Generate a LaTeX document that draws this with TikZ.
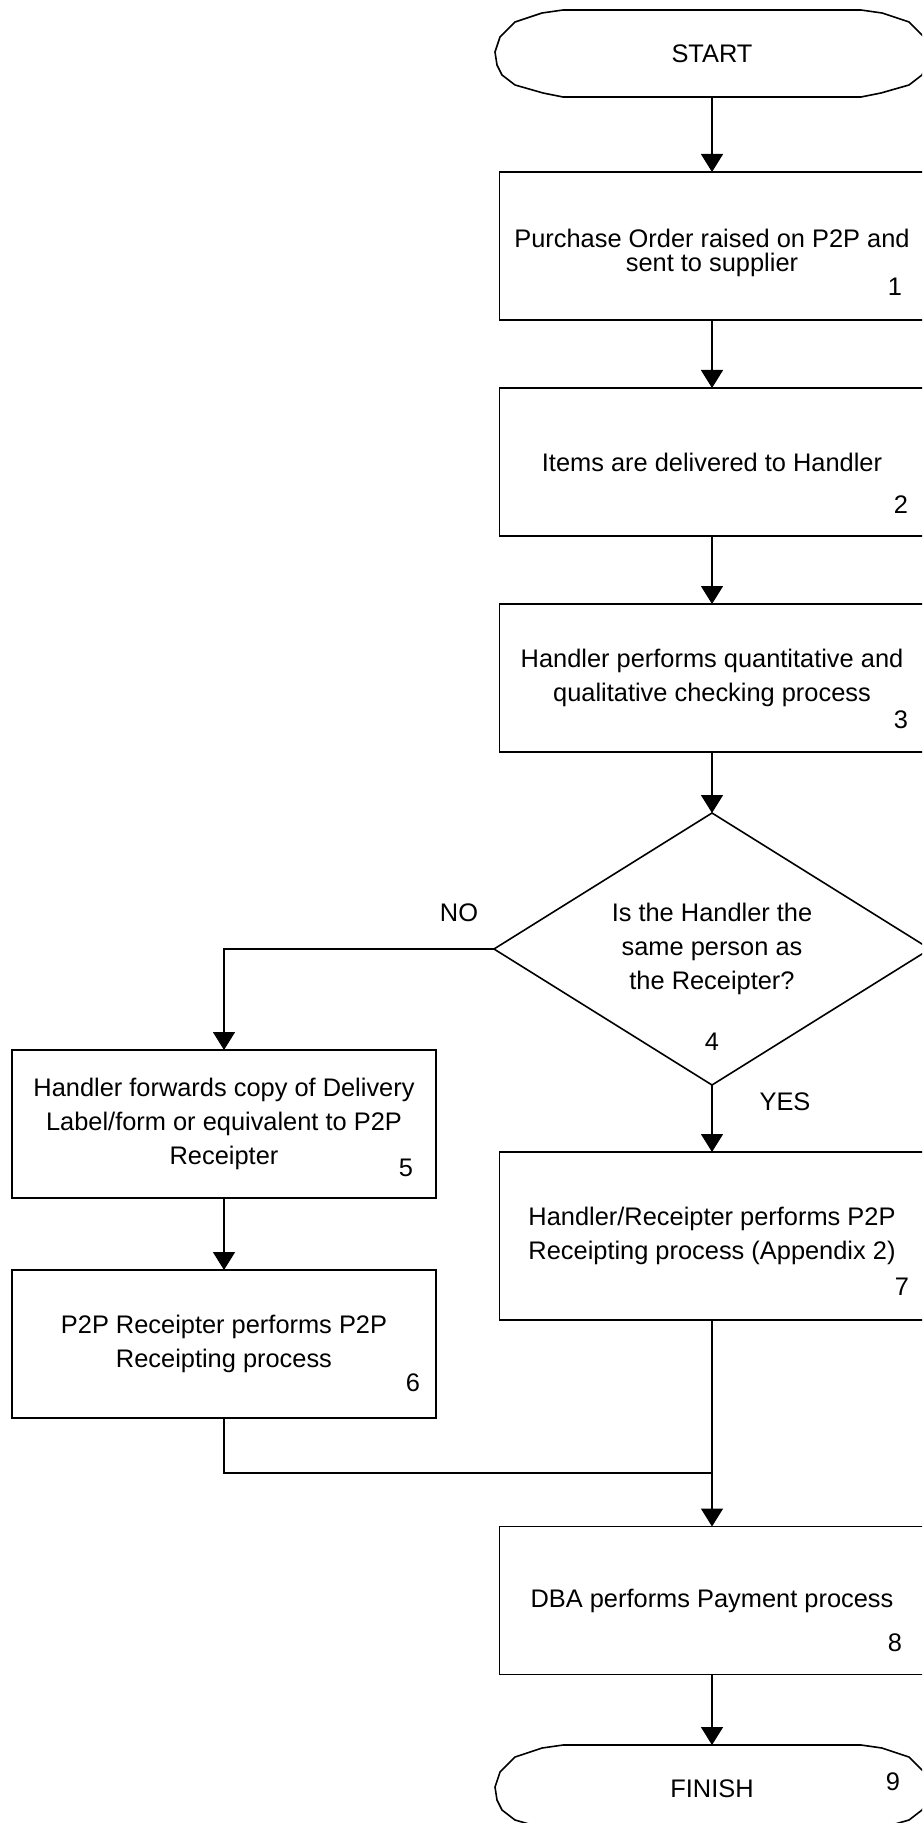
\documentclass[tikz,border=0pt]{standalone}
\usepackage{fontspec}
\setmainfont{Liberation Sans}
\usetikzlibrary{arrows.meta,shapes.geometric}
\begin{document}
\begin{tikzpicture}[x=0.5pt,y=-0.5pt,
  every node/.style={font=\fontsize{12.7pt}{17pt}\selectfont, inner sep=0pt, outer sep=0pt},
  line/.style={line width=0.8pt},
  arr/.style={line width=0.8pt, -{Triangle[width=11pt,length=9pt]}},
  box/.style={draw, line width=0.8pt, rectangle, minimum width=212.5pt, minimum height=74pt, align=center},
  lbox/.style={box, minimum width=212pt},
  ghost/.style={rectangle, align=center},
  term/.pic={\draw[line width=0.8pt] (563,0) -- (542,3) -- (515,12) -- (500,27) -- (495,42) -- (497,55) -- (502,65) -- (515,75) -- (543,83) -- (563,87)
     -- (861,87) -- (881,83) -- (909,75) -- (922,65) -- (927,55) -- (929,42) -- (924,27) -- (909,12) -- (882,3) -- (861,0) -- cycle;}
]
\useasboundingbox (0,0) rectangle (922,1823);
\fill[white] (0,0) rectangle (922,1823);
\clip (0,0) rectangle (922,1823);

% terminators
\pic at (0,10) {term};
\node[ghost, minimum width=218pt, minimum height=43.5pt] (start) at (712,53.5) {START};
\pic at (0,1745) {term};
\node[ghost, minimum width=218pt, minimum height=43.5pt] (finish) at (712,1788.5) {FINISH};
\node (n9) at (893,1782) {9};

% process boxes
\node[box] (b1) at (712,246) {};
\node[ghost, font=\fontsize{12.7pt}{12pt}\selectfont] (t1) at (712,252.5) {Purchase Order raised on P2P and\\sent to supplier};
\node (n1) at (895,287) {1};
\node[box] (b2) at (712,462) {Items are delivered to Handler};
\node (n2) at (901,505) {2};
\node[box] (b3) at (712,678) {Handler performs quantitative and\\qualitative checking process};
\node (n3) at (901,720) {3};

% decision
\node[ghost, minimum width=218pt, minimum height=136pt] (dec) at (712,949) {Is the Handler the\\same person as\\the Receipter?};
\draw[line] (dec.north) -- (dec.east) -- (dec.south) -- (dec.west) -- cycle;
\node (n4) at (712,1042) {4};

\node[lbox] (b5) at (224,1124) {Handler forwards copy of Delivery\\Label/form or equivalent to P2P\\Receipter};
\node (n5) at (406,1168) {5};
\node[lbox] (b6) at (224,1344) {P2P Receipter performs P2P\\Receipting process};
\node (n6) at (413,1383) {6};

\node[box, minimum height=84pt] (b7) at (712,1236) {Handler/Receipter performs P2P\\Receipting process (Appendix 2)};
\node (n7) at (902,1287) {7};

\node[box] (b8) at (712,1600.5) {DBA performs Payment process};
\node (n8) at (895,1643) {8};

% labels
\node (no) at (459,913) {NO};
\node (yes) at (785,1102) {YES};

% connectors
\draw[arr] (start.south) -- (b1.north);
\draw[arr] (b1.south) -- (b2.north);
\draw[arr] (b2.south) -- (b3.north);
\draw[arr] (b3.south) -- (dec.north);
\draw[arr] (dec.west) -| (b5.north);
\draw[arr] (dec.south) -- (b7.north);
\draw[arr] (b5.south) -- (b6.north);
\coordinate (j) at (712,1473);
\draw[line] (b6.south) |- (j);
\draw[arr] (b7.south) -- (b8.north);
\draw[arr] (b8.south) -- (finish.north);
\end{tikzpicture}
\end{document}
